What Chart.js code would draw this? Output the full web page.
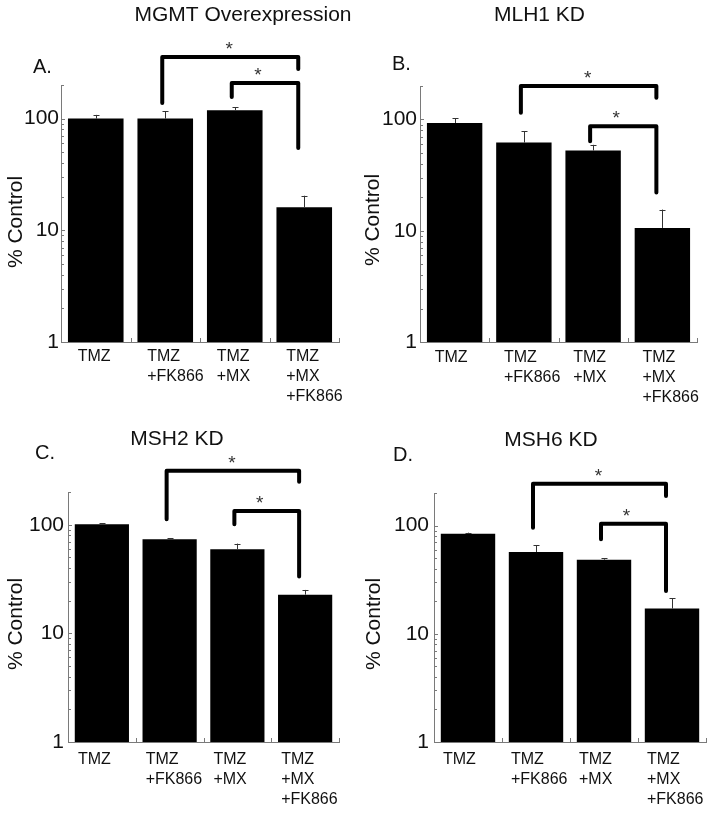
<!DOCTYPE html>
<html>
<head>
<meta charset="utf-8">
<script src="https://cdn.jsdelivr.net/npm/chart.js"></script>
<style>
  body { margin: 0; background: #fff; }
  #wrap { position: relative; width: 714px; height: 813px; }
  canvas { position: absolute; }
</style>
</head>
<body>
<div id="wrap">
  <canvas id="chartA" width="357" height="406" style="left:0;top:0"></canvas>
  <canvas id="chartB" width="357" height="406" style="left:357px;top:0"></canvas>
  <canvas id="chartC" width="357" height="407" style="left:0;top:406px"></canvas>
  <canvas id="chartD" width="357" height="407" style="left:357px;top:406px"></canvas>
</div>
<script>
var categories = [['TMZ'], ['TMZ', '+FK866'], ['TMZ', '+MX'], ['TMZ', '+MX', '+FK866']];
var yTicks = [1, 10, 100];
var yMin = 1, yMax = 200;
var panelTitles = ['MGMT Overexpression', 'MLH1 KD', 'MSH2 KD', 'MSH6 KD'];
var panelLetters = ['A.', 'B.', 'C.', 'D.'];
var yTitle = '% Control';

// mean % control and upper error per treatment
var meanA = [100, 100, 119, 16.1];
var errA = [8, 17, 7, 4.3];
var meanB = [93, 62, 52.6, 10.6];
var errB = [10, 16, 6.6, 4.9];
var meanC = [101, 73.5, 59.5, 22.7];
var errC = [2, 1.5, 7.5, 2.4];
var meanD = [84, 57, 48.4, 17.1];
var errD = [2, 9, 1.5, 4.3];

// significance brackets: [from bar, to bar, top, left end, right end] in % control
var sigA = [[1, 3, 356, 138, 278], [2, 3, 208, 156, 54.6]];
var sigB = [[1, 3, 200, 115, 157], [2, 3, 87, 63.8, 22.1]];
var sigC = [[1, 3, 313, 112, 248], [2, 3, 134, 101, 33.3]];
var sigD = [[1, 3, 244, 95.6, 188], [2, 3, 104, 74.7, 24.9]];

var FONT = '"Liberation Sans", Arial, Helvetica, sans-serif';
var AXIS = '#7a7a7a';
var starShift = [-1, -7];

// where each panel sits inside its canvas
var layouts = [
    {left: 61, right: 339, top: 85, bottom: 342, labelPad: 5, labelOffset: -18, yPad: 2,
     title: [243, 15.5], letter: [33, 67], ytitle: [16.5, 222]},
    {left: 63, right: 340, top: 86, bottom: 342, labelPad: 6, labelOffset: -20, yPad: 3,
     title: [182.5, 15.5], letter: [35, 64.5], ytitle: [16, 220]},
    {left: 68, right: 339, top: 86, bottom: 336, labelPad: 8, labelOffset: -24, yPad: 4,
     title: [177, 33.5], letter: [35, 47], ytitle: [16.7, 218]},
    {left: 77, right: 349, top: 87, bottom: 336, labelPad: 8, labelOffset: -25, yPad: 5,
     title: [194, 34.5], letter: [36, 49], ytitle: [17.5, 218]}
];

function extrasPlugin(idx, errs, sigs) {
    var lay = layouts[idx];
    return {
        id: 'extras' + idx,
        afterDatasetsDraw: function (chart) {
            var ctx = chart.ctx;
            var xs = chart.scales.x, ys = chart.scales.y;
            var meta = chart.getDatasetMeta(0);
            var vals = chart.data.datasets[0].data;
            ctx.save();

            // error bars (upper only)
            ctx.strokeStyle = '#333';
            ctx.lineWidth = 1;
            meta.data.forEach(function (bar, i) {
                var x = Math.round(bar.x) + 0.5;
                var yTop = ys.getPixelForValue(vals[i] + errs[i]);
                var yBar = ys.getPixelForValue(vals[i]);
                ctx.beginPath();
                ctx.moveTo(x, yBar);
                ctx.lineTo(x, yTop);
                ctx.moveTo(x - 3, Math.round(yTop) + 0.5);
                ctx.lineTo(x + 3, Math.round(yTop) + 0.5);
                ctx.stroke();
            });

            // minor ticks on the log axis, pointing inward
            ctx.strokeStyle = AXIS;
            ctx.beginPath();
            [1, 10, 100].forEach(function (dec) {
                for (var m = 1; m < 10; m++) {
                    var v = m * dec;
                    if (v <= yMin || v > yMax) continue;
                    var y = Math.round(ys.getPixelForValue(v)) + 0.5;
                    ctx.moveTo(chart.chartArea.left, y);
                    ctx.lineTo(chart.chartArea.left + (m === 1 ? 4 : 3), y);
                }
            });
            // small ticks between categories on the x axis
            for (var k = 0; k < vals.length; k++) {
                var bx = k < vals.length - 1
                    ? (xs.getPixelForValue(k) + xs.getPixelForValue(k + 1)) / 2
                    : chart.chartArea.right;
                bx = Math.round(bx) + 0.5;
                ctx.moveTo(bx, chart.chartArea.bottom);
                ctx.lineTo(bx, chart.chartArea.bottom - 4);
            }
            ctx.stroke();

            // significance brackets
            ctx.strokeStyle = '#000';
            ctx.lineWidth = 4;
            ctx.lineJoin = 'round';
            ctx.lineCap = 'round';
            sigs.forEach(function (s, n) {
                var x1 = xs.getPixelForValue(s[0]) - 3;
                var x2 = xs.getPixelForValue(s[1]) - 6;
                var yt = ys.getPixelForValue(s[2]);
                ctx.beginPath();
                ctx.moveTo(x1, ys.getPixelForValue(s[3]));
                ctx.lineTo(x1, yt);
                ctx.lineTo(x2, yt);
                ctx.lineTo(x2, ys.getPixelForValue(s[4]));
                ctx.stroke();
                ctx.fillStyle = '#333';
                ctx.font = '19px ' + FONT;
                ctx.textAlign = 'center';
                ctx.textBaseline = 'alphabetic';
                ctx.fillText('*', (x1 + x2) / 2 + starShift[n], yt - 2);
            });

            // panel title, letter and y axis title
            ctx.fillStyle = '#111';
            ctx.textBaseline = 'middle';
            ctx.font = '21px ' + FONT;
            ctx.textAlign = 'center';
            ctx.fillText(panelTitles[idx], lay.title[0], lay.title[1]);
            ctx.font = '20px ' + FONT;
            ctx.textAlign = 'left';
            ctx.fillText(panelLetters[idx], lay.letter[0], lay.letter[1]);
            ctx.translate(lay.ytitle[0], lay.ytitle[1]);
            ctx.rotate(-Math.PI / 2);
            ctx.font = '21px ' + FONT;
            ctx.textAlign = 'center';
            ctx.fillText(yTitle, 0, 0);
            ctx.restore();
        }
    };
}

function makePanel(idx, canvasId, means, errs, sigs) {
    var lay = layouts[idx];
    var canvas = document.getElementById(canvasId);
    var W = canvas.width, H = canvas.height;
    return new Chart(canvas.getContext('2d'), {
        type: 'bar',
        data: {
            labels: categories,
            datasets: [{
                data: means,
                backgroundColor: '#000',
                borderWidth: 0,
                barPercentage: 1,
                categoryPercentage: 0.8
            }]
        },
        options: {
            responsive: false,
            animation: false,
            devicePixelRatio: 1,
            layout: {padding: {left: 0, right: W - lay.right, top: lay.top, bottom: 0}},
            plugins: {legend: {display: false}, tooltip: {enabled: false}},
            scales: {
                x: {
                    type: 'category',
                    offset: true,
                    grid: {display: false, drawTicks: false},
                    border: {display: true, color: AXIS, width: 1},
                    ticks: {
                        align: 'start',
                        labelOffset: lay.labelOffset,
                        padding: lay.labelPad,
                        autoSkip: false,
                        maxRotation: 0,
                        color: '#111',
                        font: {family: FONT, size: 16, lineHeight: 1.25}
                    },
                    afterFit: function (s) {
                        s.height = H - lay.bottom;
                        s.paddingLeft = 0;
                        s.paddingRight = 0;
                    }
                },
                y: {
                    type: 'logarithmic',
                    min: yMin,
                    max: yMax,
                    grid: {display: false, drawTicks: false},
                    border: {display: true, color: AXIS, width: 1},
                    afterBuildTicks: function (s) {
                        s.ticks = yTicks.map(function (v) { return {value: v}; });
                    },
                    ticks: {
                        padding: lay.yPad,
                        color: '#111',
                        font: {family: FONT, size: 21},
                        callback: function (v) { return String(v); }
                    },
                    afterFit: function (s) {
                        s.width = lay.left;
                        s.paddingTop = 0;
                        s.paddingBottom = 0;
                    }
                }
            }
        },
        plugins: [extrasPlugin(idx, errs, sigs)]
    });
}

makePanel(0, 'chartA', meanA, errA, sigA);
makePanel(1, 'chartB', meanB, errB, sigB);
makePanel(2, 'chartC', meanC, errC, sigC);
makePanel(3, 'chartD', meanD, errD, sigD);
</script>
</body>
</html>
